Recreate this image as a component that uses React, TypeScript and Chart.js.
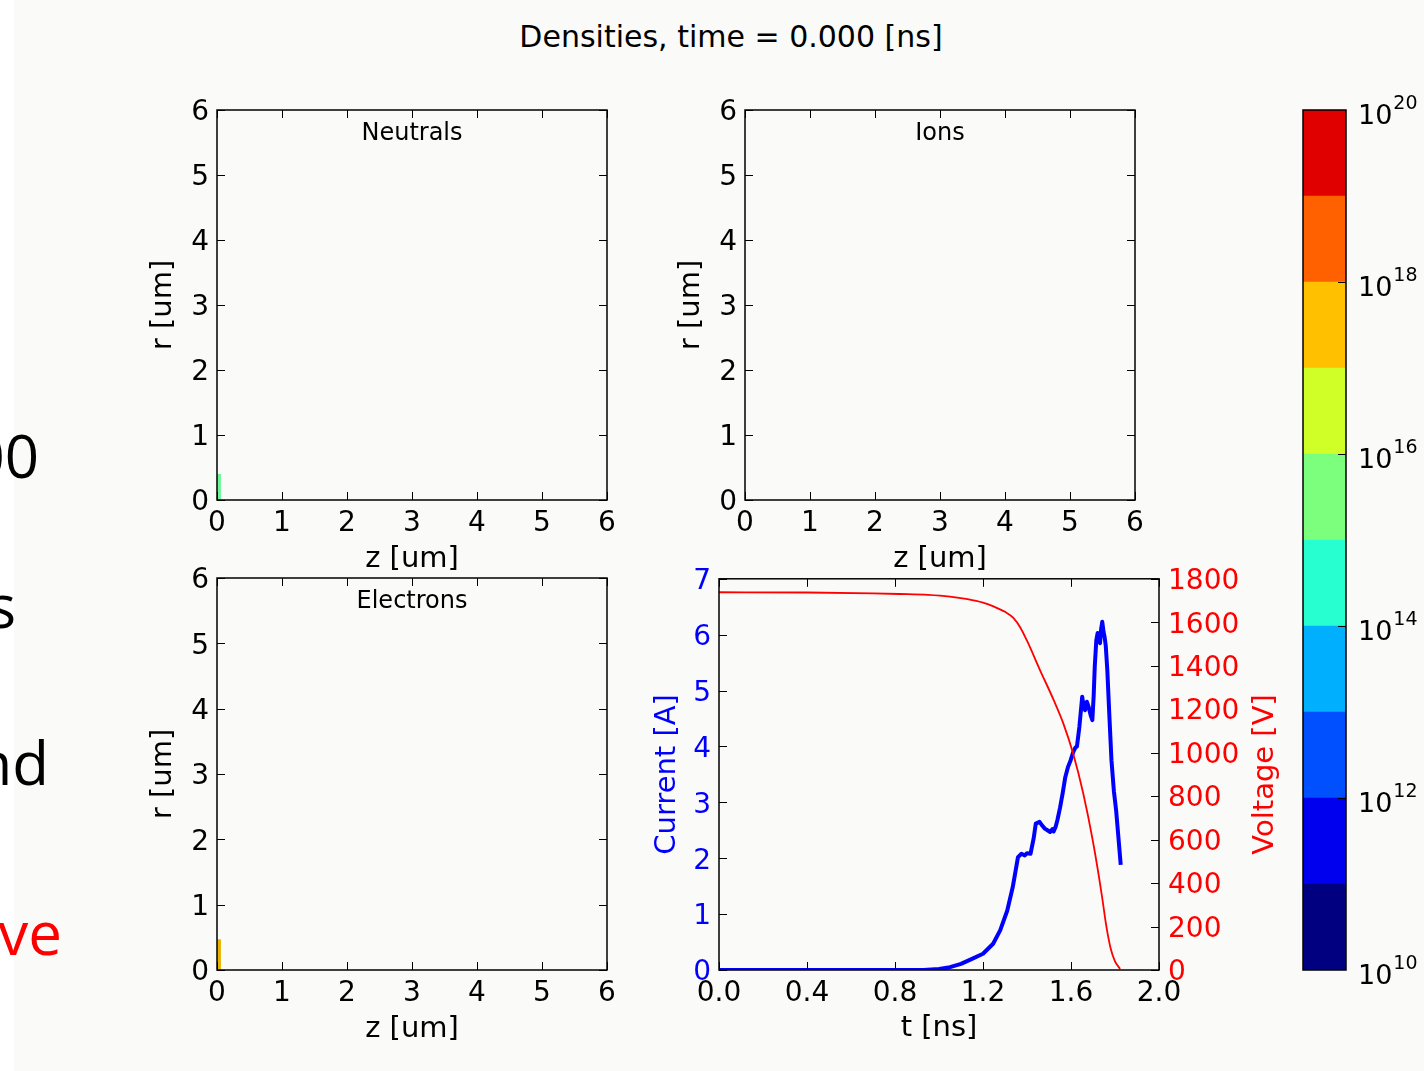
import React, { useEffect, useRef } from 'react';
import { Chart, registerables } from 'chart.js';

Chart.register(...registerables);

const FONT = "'DejaVu Sans', sans-serif";

// ---------- Density panels ----------
const heatTicks = [0, 1, 2, 3, 4, 5, 6];
const stripZ = 0.03;
const neutralsStripR = [0, 0.4];
const ionsStripR: number[] = [];
const electronsStripR = [0, 0.47];

// ---------- Current / voltage panel ----------
const timeTicks = [0, 0.4, 0.8, 1.2, 1.6, 2.0];
const currentTicks = [0, 1, 2, 3, 4, 5, 6, 7];
const voltageTicks = [0, 200, 400, 600, 800, 1000, 1200, 1400, 1600, 1800];

const currentT = [0, 0.93, 1.0, 1.05, 1.1, 1.15, 1.2, 1.246, 1.278, 1.31, 1.335, 1.359, 1.375, 1.39, 1.4, 1.416, 1.43, 1.44, 1.457, 1.47, 1.481, 1.493, 1.505, 1.515, 1.521, 1.53, 1.538, 1.55, 1.562, 1.574, 1.586, 1.598, 1.61, 1.62, 1.627, 1.638, 1.651, 1.658, 1.664, 1.672, 1.68, 1.69, 1.697, 1.703, 1.708, 1.715, 1.721, 1.727, 1.732, 1.737, 1.742, 1.748, 1.753, 1.758, 1.765, 1.775, 1.784, 1.795, 1.805, 1.815, 1.826];
const currentA = [0, 0, 0.02, 0.05, 0.11, 0.2, 0.29, 0.47, 0.71, 1.06, 1.48, 2.02, 2.08, 2.05, 2.09, 2.08, 2.35, 2.62, 2.65, 2.58, 2.53, 2.5, 2.47, 2.52, 2.48, 2.56, 2.68, 2.9, 3.16, 3.45, 3.63, 3.75, 3.9, 3.98, 4.0, 4.35, 4.89, 4.7, 4.65, 4.8, 4.71, 4.55, 4.47, 4.9, 5.43, 5.9, 6.03, 5.9, 5.85, 6.1, 6.23, 6.05, 5.95, 5.8, 5.37, 4.5, 3.75, 3.2, 2.86, 2.4, 1.88];

const voltageT = [0, 0.4, 0.7, 0.82, 0.95, 1.05, 1.13, 1.2, 1.25, 1.3, 1.338, 1.37, 1.4, 1.46, 1.52, 1.565, 1.61, 1.656, 1.7, 1.74, 1.76, 1.78, 1.8, 1.823];
const voltageV = [1738, 1737, 1733, 1730, 1726, 1718, 1706, 1690, 1672, 1648, 1620, 1575, 1515, 1378, 1245, 1135, 995, 811, 590, 345, 205, 100, 40, 5];

// ---------- Colour bar ----------
const cbLevels = [10, 11, 12, 13, 14, 15, 16, 17, 18, 19, 20];
const cbLabelExponents = [10, 12, 14, 16, 18, 20];
const cbInnerTicks = [12, 14, 16, 18];
const cbColors = ['#000080', '#0000ee', '#0050ff', '#00b0ff', '#28ffd0', '#7cff7c', '#d0ff28', '#ffc000', '#ff6000', '#e00000'];

const TICK_LEN = 8;

function inwardTicks(ctx: any, a: any, xs: any, xVals: number[], ys: any, yVals: number[], ySide: 'left' | 'right' | 'both', xBoth = true) {
  ctx.beginPath();
  for (const v of xVals) {
    const px = Math.round(xs.getPixelForValue(v)) + 0.5;
    ctx.moveTo(px, a.bottom); ctx.lineTo(px, a.bottom - TICK_LEN);
    if (xBoth) { ctx.moveTo(px, a.top); ctx.lineTo(px, a.top + TICK_LEN); }
  }
  for (const v of yVals) {
    const py = Math.round(ys.getPixelForValue(v)) + 0.5;
    if (ySide !== 'right') { ctx.moveTo(a.left, py); ctx.lineTo(a.left + TICK_LEN, py); }
    if (ySide !== 'left') { ctx.moveTo(a.right, py); ctx.lineTo(a.right - TICK_LEN, py); }
  }
  ctx.stroke();
}

function heatPlugin(title: string) {
  return {
    id: 'heatFrame',
    afterDraw(chart: any) {
      const { ctx, chartArea: a, scales } = chart;
      ctx.save();
      ctx.strokeStyle = '#000';
      ctx.lineWidth = 1;
      inwardTicks(ctx, a, scales.x, heatTicks, scales.y, heatTicks, 'both');
      ctx.lineWidth = 1.5;
      ctx.strokeRect(a.left, a.top, a.right - a.left, a.bottom - a.top);
      ctx.fillStyle = '#000';
      ctx.textAlign = 'center';
      ctx.textBaseline = 'middle';
      ctx.font = `24px ${FONT}`;
      ctx.fillText(title, (a.left + a.right) / 2, a.top + 24);
      ctx.font = `29px ${FONT}`;
      ctx.fillText('z [um]', (a.left + a.right) / 2, a.bottom + 59);
      ctx.translate(a.left - 54, (a.top + a.bottom) / 2);
      ctx.rotate(-Math.PI / 2);
      ctx.fillText('r [um]', 0, 0);
      ctx.restore();
    },
  };
}

const PL = 100, PT = 25, PR = 25, PB = 80;

function HeatPanel(props: { left: number; top: number; w: number; h: number; title: string; stripR: number[]; stripColor: string }) {
  const { left, top, w, h, title, stripR, stripColor } = props;
  const ref = useRef<HTMLCanvasElement>(null);
  useEffect(() => {
    const datasets: any[] = stripR.length
      ? [{
          data: stripR.map((r) => ({ x: stripZ, y: r })),
          borderColor: stripColor,
          borderWidth: 4,
          borderCapStyle: 'butt',
          pointRadius: 0,
        }]
      : [];
    const tickFont = { family: FONT, size: 28 };
    const chart = new Chart(ref.current as HTMLCanvasElement, {
      type: 'line',
      data: { datasets },
      options: {
        animation: false,
        responsive: false,
        events: [],
        layout: { padding: { left: 0, top: PT, right: PR, bottom: 0 }, autoPadding: false },
        plugins: { legend: { display: false }, tooltip: { enabled: false } },
        scales: {
          x: {
            type: 'linear', min: 0, max: 6,
            afterBuildTicks: (s: any) => { s.ticks = heatTicks.map((v) => ({ value: v })); },
            afterFit: (s: any) => { s.height = PB; },
            grid: { display: false, drawTicks: false },
            border: { display: false },
            ticks: { font: tickFont, color: '#000', padding: 7, maxRotation: 0, autoSkip: false, callback: (v: any) => String(v) },
          },
          y: {
            type: 'linear', min: 0, max: 6,
            afterBuildTicks: (s: any) => { s.ticks = heatTicks.map((v) => ({ value: v })); },
            afterFit: (s: any) => { s.width = PL; },
            grid: { display: false, drawTicks: false },
            border: { display: false },
            ticks: { font: tickFont, color: '#000', padding: 8, labelOffset: 3, autoSkip: false, callback: (v: any) => String(v) },
          },
        },
      } as any,
      plugins: [heatPlugin(title)],
    });
    return () => chart.destroy();
  }, []);
  return (
    <canvas
      ref={ref}
      width={PL + w + PR}
      height={PT + h + PB}
      style={{ position: 'absolute', left: left - PL, top: top - PT, width: PL + w + PR, height: PT + h + PB }}
    />
  );
}

const currentPlugin = {
  id: 'currentFrame',
  afterDraw(chart: any) {
    const { ctx, chartArea: a, scales } = chart;
    ctx.save();
    ctx.strokeStyle = '#000';
    ctx.lineWidth = 1;
    inwardTicks(ctx, a, scales.x, timeTicks, scales.y, currentTicks, 'left');
    inwardTicks(ctx, a, scales.x, [], scales.y2, voltageTicks, 'right');
    ctx.lineWidth = 1.5;
    ctx.strokeRect(a.left, a.top, a.right - a.left, a.bottom - a.top);
    ctx.textAlign = 'center';
    ctx.textBaseline = 'middle';
    ctx.font = `29px ${FONT}`;
    ctx.fillStyle = '#000';
    ctx.fillText('t [ns]', (a.left + a.right) / 2, a.bottom + 58);
    const cy = (a.top + a.bottom) / 2;
    ctx.save();
    ctx.translate(a.left - 52, cy);
    ctx.rotate(-Math.PI / 2);
    ctx.fillStyle = '#0000ff';
    ctx.fillText('Current [A]', 0, 0);
    ctx.restore();
    ctx.save();
    ctx.translate(a.right + 106, cy);
    ctx.rotate(-Math.PI / 2);
    ctx.fillStyle = '#ff0000';
    ctx.fillText('Voltage [V]', 0, 0);
    ctx.restore();
    ctx.restore();
  },
};

function CurrentPanel() {
  const ref = useRef<HTMLCanvasElement>(null);
  const left = 719, top = 578, w = 440, h = 392, pr = 140;
  useEffect(() => {
    const tickFont = { family: FONT, size: 28 };
    const chart = new Chart(ref.current as HTMLCanvasElement, {
      type: 'line',
      data: {
        datasets: [
          {
            label: 'Voltage [V]',
            data: voltageT.map((t, i) => ({ x: t, y: voltageV[i] })),
            yAxisID: 'y2',
            borderColor: '#ff0000',
            borderWidth: 1.8,
            pointRadius: 0,
            cubicInterpolationMode: 'monotone',
          },
          {
            label: 'Current [A]',
            data: currentT.map((t, i) => ({ x: t, y: currentA[i] })),
            yAxisID: 'y',
            borderColor: '#0000ff',
            borderWidth: 4,
            pointRadius: 0,
            borderJoinStyle: 'round',
          },
        ],
      },
      options: {
        animation: false,
        responsive: false,
        events: [],
        layout: { padding: { left: 0, top: PT, right: 0, bottom: 0 }, autoPadding: false },
        plugins: { legend: { display: false }, tooltip: { enabled: false } },
        scales: {
          x: {
            type: 'linear', min: 0, max: 2,
            afterBuildTicks: (s: any) => { s.ticks = timeTicks.map((v) => ({ value: v })); },
            afterFit: (s: any) => { s.height = PB; },
            grid: { display: false, drawTicks: false },
            border: { display: false },
            ticks: { font: tickFont, color: '#000', padding: 7, maxRotation: 0, autoSkip: false, callback: (v: any) => Number(v).toFixed(1) },
          },
          y: {
            type: 'linear', position: 'left', min: 0, max: 7,
            afterBuildTicks: (s: any) => { s.ticks = currentTicks.map((v) => ({ value: v })); },
            afterFit: (s: any) => { s.width = PL; },
            grid: { display: false, drawTicks: false },
            border: { display: false },
            ticks: { font: tickFont, color: '#0000ff', padding: 8, labelOffset: 3, autoSkip: false, callback: (v: any) => String(v) },
          },
          y2: {
            type: 'linear', position: 'right', min: 0, max: 1800,
            afterBuildTicks: (s: any) => { s.ticks = voltageTicks.map((v) => ({ value: v })); },
            afterFit: (s: any) => { s.width = pr; },
            grid: { display: false, drawTicks: false },
            border: { display: false },
            ticks: { font: tickFont, color: '#ff0000', padding: 9, labelOffset: 3, autoSkip: false, callback: (v: any) => String(v) },
          },
        },
      } as any,
      plugins: [currentPlugin],
    });
    return () => chart.destroy();
  }, []);
  return (
    <canvas
      ref={ref}
      width={PL + w + pr}
      height={PT + h + PB}
      style={{ position: 'absolute', left: left - PL, top: top - PT, width: PL + w + pr, height: PT + h + PB }}
    />
  );
}

const colorbarPlugin = {
  id: 'cbFrame',
  afterDraw(chart: any) {
    const { ctx, chartArea: a, scales } = chart;
    ctx.save();
    ctx.strokeStyle = '#000';
    ctx.lineWidth = 1;
    ctx.beginPath();
    for (const v of cbInnerTicks) {
      const py = Math.round(scales.y.getPixelForValue(v)) + 0.5;
      ctx.moveTo(a.right, py);
      ctx.lineTo(a.right - TICK_LEN, py);
    }
    ctx.stroke();
    ctx.lineWidth = 1.5;
    ctx.strokeRect(a.left, a.top, a.right - a.left, a.bottom - a.top);
    ctx.fillStyle = '#000';
    ctx.textAlign = 'left';
    ctx.textBaseline = 'middle';
    for (const e of cbLabelExponents) {
      const py = scales.y.getPixelForValue(e);
      const x0 = a.right + 12;
      ctx.font = `27px ${FONT}`;
      ctx.fillText('10', x0, py + 7);
      const wBase = ctx.measureText('10').width;
      ctx.font = `19px ${FONT}`;
      ctx.fillText(String(e), x0 + wBase + 1, py - 6);
    }
    ctx.restore();
  },
};

function ColorBar() {
  const ref = useRef<HTMLCanvasElement>(null);
  const left = 1303, top = 110, w = 43, h = 860, pl = 3, pr = 78, pt = 25, pb = 25;
  useEffect(() => {
    const chart = new Chart(ref.current as HTMLCanvasElement, {
      type: 'bar',
      data: {
        labels: [''],
        datasets: cbColors.map((c, i) => ({
          data: [[cbLevels[i], cbLevels[i + 1]]],
          backgroundColor: c,
          borderWidth: 0,
          barPercentage: 1,
          categoryPercentage: 1,
        })),
      },
      options: {
        animation: false,
        responsive: false,
        events: [],
        layout: { padding: { left: pl, top: pt, right: pr, bottom: pb }, autoPadding: false },
        plugins: { legend: { display: false }, tooltip: { enabled: false } },
        scales: {
          x: { display: false, stacked: true },
          y: { display: false, stacked: false, min: cbLevels[0], max: cbLevels[cbLevels.length - 1] },
        },
      } as any,
      plugins: [colorbarPlugin],
    });
    return () => chart.destroy();
  }, []);
  return (
    <canvas
      ref={ref}
      width={pl + w + pr}
      height={pt + h + pb}
      style={{ position: 'absolute', left: left - pl, top: top - pt, width: pl + w + pr, height: pt + h + pb }}
    />
  );
}

const slideFont = "'Open Sans', 'Noto Sans', sans-serif";

function Fragment(props: { text: string; rightEdge: number; baseline: number; color?: string }) {
  return (
    <div
      style={{
        position: 'absolute',
        right: 1424 - props.rightEdge,
        top: props.baseline - 53,
        fontFamily: slideFont,
        fontSize: 60,
        lineHeight: '60px',
        whiteSpace: 'nowrap',
        color: props.color || '#000',
      }}
    >
      {props.text}
    </div>
  );
}

export default function App() {
  return (
    <div
      style={{
        position: 'absolute',
        left: 0,
        top: 0,
        width: 1424,
        height: 1071,
        overflow: 'hidden',
        background: '#fafaf9',
      }}
    >
      <div style={{ position: 'absolute', left: 0, top: 0, width: 14, height: 1071, background: '#ffffff' }} />
      <Fragment text="00" rightEdge={39} baseline={478} />
      <Fragment text="s" rightEdge={16} baseline={628} />
      <Fragment text="nd" rightEdge={49} baseline={785} />
      <Fragment text="ve" rightEdge={62} baseline={955} color="#ff0000" />
      <div
        style={{
          position: 'absolute',
          left: 431,
          top: 19,
          width: 600,
          textAlign: 'center',
          fontFamily: FONT,
          fontSize: 30,
          lineHeight: '36px',
          color: '#000',
          whiteSpace: 'nowrap',
        }}
      >
        Densities, time = 0.000 [ns]
      </div>
      <HeatPanel left={217} top={110} w={390} h={390} title="Neutrals" stripR={neutralsStripR} stripColor="#6ef59a" />
      <HeatPanel left={745} top={110} w={390} h={390} title="Ions" stripR={ionsStripR} stripColor="#6ef59a" />
      <HeatPanel left={217} top={578} w={390} h={392} title="Electrons" stripR={electronsStripR} stripColor="#e8b400" />
      <CurrentPanel />
      <ColorBar />
    </div>
  );
}
